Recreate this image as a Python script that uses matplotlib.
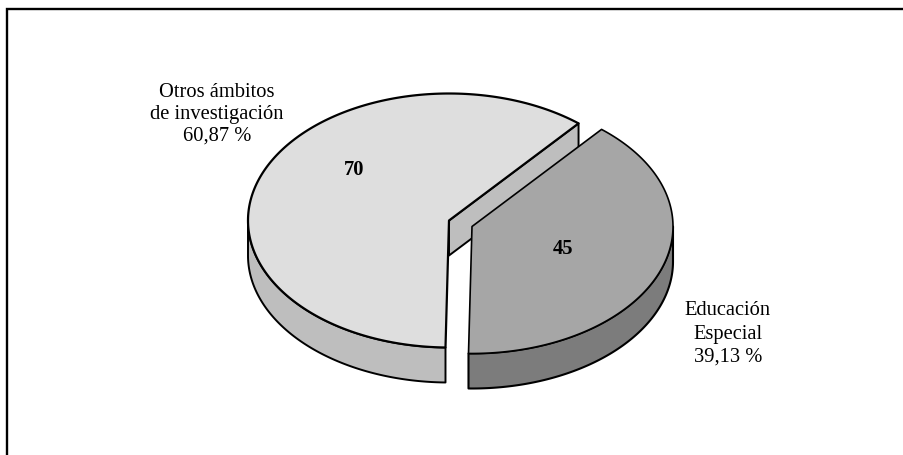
import numpy as np
import matplotlib
matplotlib.use("Agg")
import matplotlib.pyplot as plt
from matplotlib.patches import Polygon

plt.rcParams['font.family'] = ['Liberation Serif', 'DejaVu Serif']

categories = ["Otros ámbitos\nde investigación\n60,87 %", "Educación\nEspecial\n39,13 %"]
values = [70, 45]

W, H = 904, 455
fig = plt.figure(figsize=(W / 100, H / 100), dpi=100, facecolor='white')
ax = fig.add_axes([0, 0, 1, 1])
ax.set_xlim(0, W)
ax.set_ylim(H, 0)
ax.axis('off')

A, B, DEPTH = 201, 127, 35
START = 269.0
fractions = np.array(values, float) / sum(values)
a_end = START - fractions[0] * 360  # left slice runs from a_end to START


def pt(c, deg):
    t = np.radians(np.asarray(deg, float))
    y = c[1] - B * np.sin(t)
    x = c[0] + A * np.cos(t)
    return np.column_stack([x, y])


def arc(c, d0, d1, n=200):
    return pt(c, np.linspace(d0, d1, n))


def down(p):
    return p + np.array([0, DEPTH])


EDGE = 'black'


def poly(p, fc, z, lw):
    ax.add_patch(Polygon(p, closed=True, facecolor=fc, edgecolor=EDGE, linewidth=lw,
                         joinstyle='round', zorder=z))


# Left slice
c1 = (449.0, 220.5)
wall_l = '#BEBEBE'
top_l = '#DEDEDE'
corner = pt(c1, [a_end])
poly(np.vstack([[c1], corner, down(corner), down(np.array([c1]))]), wall_l, 2, 1.4)
edge_arc = arc(c1, 180, START)
poly(np.vstack([edge_arc, down(edge_arc)[::-1]]), wall_l, 2, 1.4)
poly(np.vstack([[c1], arc(c1, a_end, START)]), top_l, 3, 1.6)

# Right slice
c2 = (472.0, 226.5)
wall_r = '#7C7C7C'
top_r = '#A6A6A6'
edge_arc = arc(c2, START, 360)
poly(np.vstack([edge_arc, down(edge_arc)[::-1]]), wall_r, 4, 1.5)
poly(np.vstack([[c2], arc(c2, START, 360 + a_end)]), top_r, 5, 1.2)

# Labels
fs = 14.8
ax.text(217, 114, categories[0], ha='center', va='center', fontsize=fs,
        linespacing=1.2, color='black', zorder=6)
ax.text(728, 334, categories[1], ha='center', va='center', fontsize=fs,
        linespacing=1.32, color='black', zorder=6)
ax.text(354, 170, str(values[0]), ha='center', va='center', fontsize=fs,
        fontweight='bold', zorder=6)
ax.text(563, 249, str(values[1]), ha='center', va='center', fontsize=fs,
        fontweight='bold', zorder=6)

# Chart frame: left and top only reach the picture edge
ax.plot([7.5, 7.5, W], [H, 8.5, 8.5], color='black', lw=1.7, solid_joinstyle='miter', zorder=1)

fig.savefig('out.png', dpi=100, facecolor='white')
